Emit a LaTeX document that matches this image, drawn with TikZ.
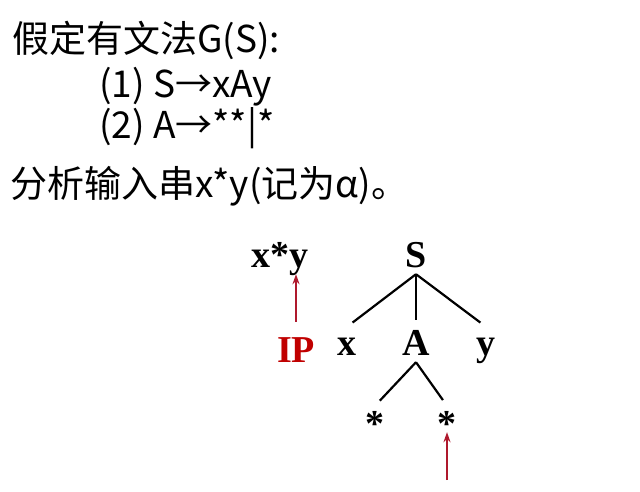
\documentclass[tikz,border=0pt]{standalone}
\usepackage{fontspec}
\usepackage{tikz}
\usetikzlibrary{positioning,arrows.meta}
\newfontfamily\cjk{Noto Sans CJK SC}
\newfontfamily\tms{Liberation Serif}
\definecolor{ipred}{RGB}{192,0,0}
\definecolor{arrred}{RGB}{175,25,45}

\begin{document}
\begin{tikzpicture}[x=1pt,y=-1pt,
    line/.style={font=\cjk\fontsize{37}{44}\selectfont, anchor=base west, inner sep=0pt},
    sym/.style={font=\tms\bfseries\fontsize{38}{44}\selectfont, inner sep=2pt, text height=26pt, text depth=5pt, anchor=base},
    star/.style={sym, text height=28pt},
    branch/.style={line width=2.2pt, shorten >=7pt},
    ptr/.style={arrred, line width=2pt, -{Stealth[length=10pt,width=7pt]}}]
    \useasboundingbox (0,0) rectangle (640,491);

    % Grammar and input string
    \node[line] (g0) at (12,52) {假定有文法G(S):};
    \node[line] (g1) at (99,97) {(1) S→xAy};
    \node[line] (g2) at (99,138) {(2) A→**|*};
    \node[line] (inp) at (10,197) {分析输入串x*y(记为α)。};

    % Input string with pointer
    \node[sym] (str) at (280,267) {x*y};
    \node[sym, text=ipred] (ip) at (296,362) {IP};
    \draw[ptr, shorten <=12pt] (ip.north) -- (ip.north |- str.south);

    % Parse tree
    \node[sym] (S) at (416,267) {S};
    \node[sym] (x) at (347,355) {x};
    \node[sym] (A) at (416,355) {A};
    \node[sym] (y) at (486,355) {y};
    \node[star] (s1) at (375,436) {*};
    \node[star] (s2) at (447,436) {*};
    \draw[branch] (S.south) -- (x.north);
    \draw[branch] (S.south) -- (A.north);
    \draw[branch] (S.south) -- (y.north);
    \draw[branch] (A.south) -- (s1.north);
    \draw[branch] (A.south) -- (s2.north);

    % Pointer to the current symbol
    \coordinate (cur) at (447,480);
    \draw[ptr, shorten >=-11pt] (cur) -- (s2.south);
\end{tikzpicture}
\end{document}
